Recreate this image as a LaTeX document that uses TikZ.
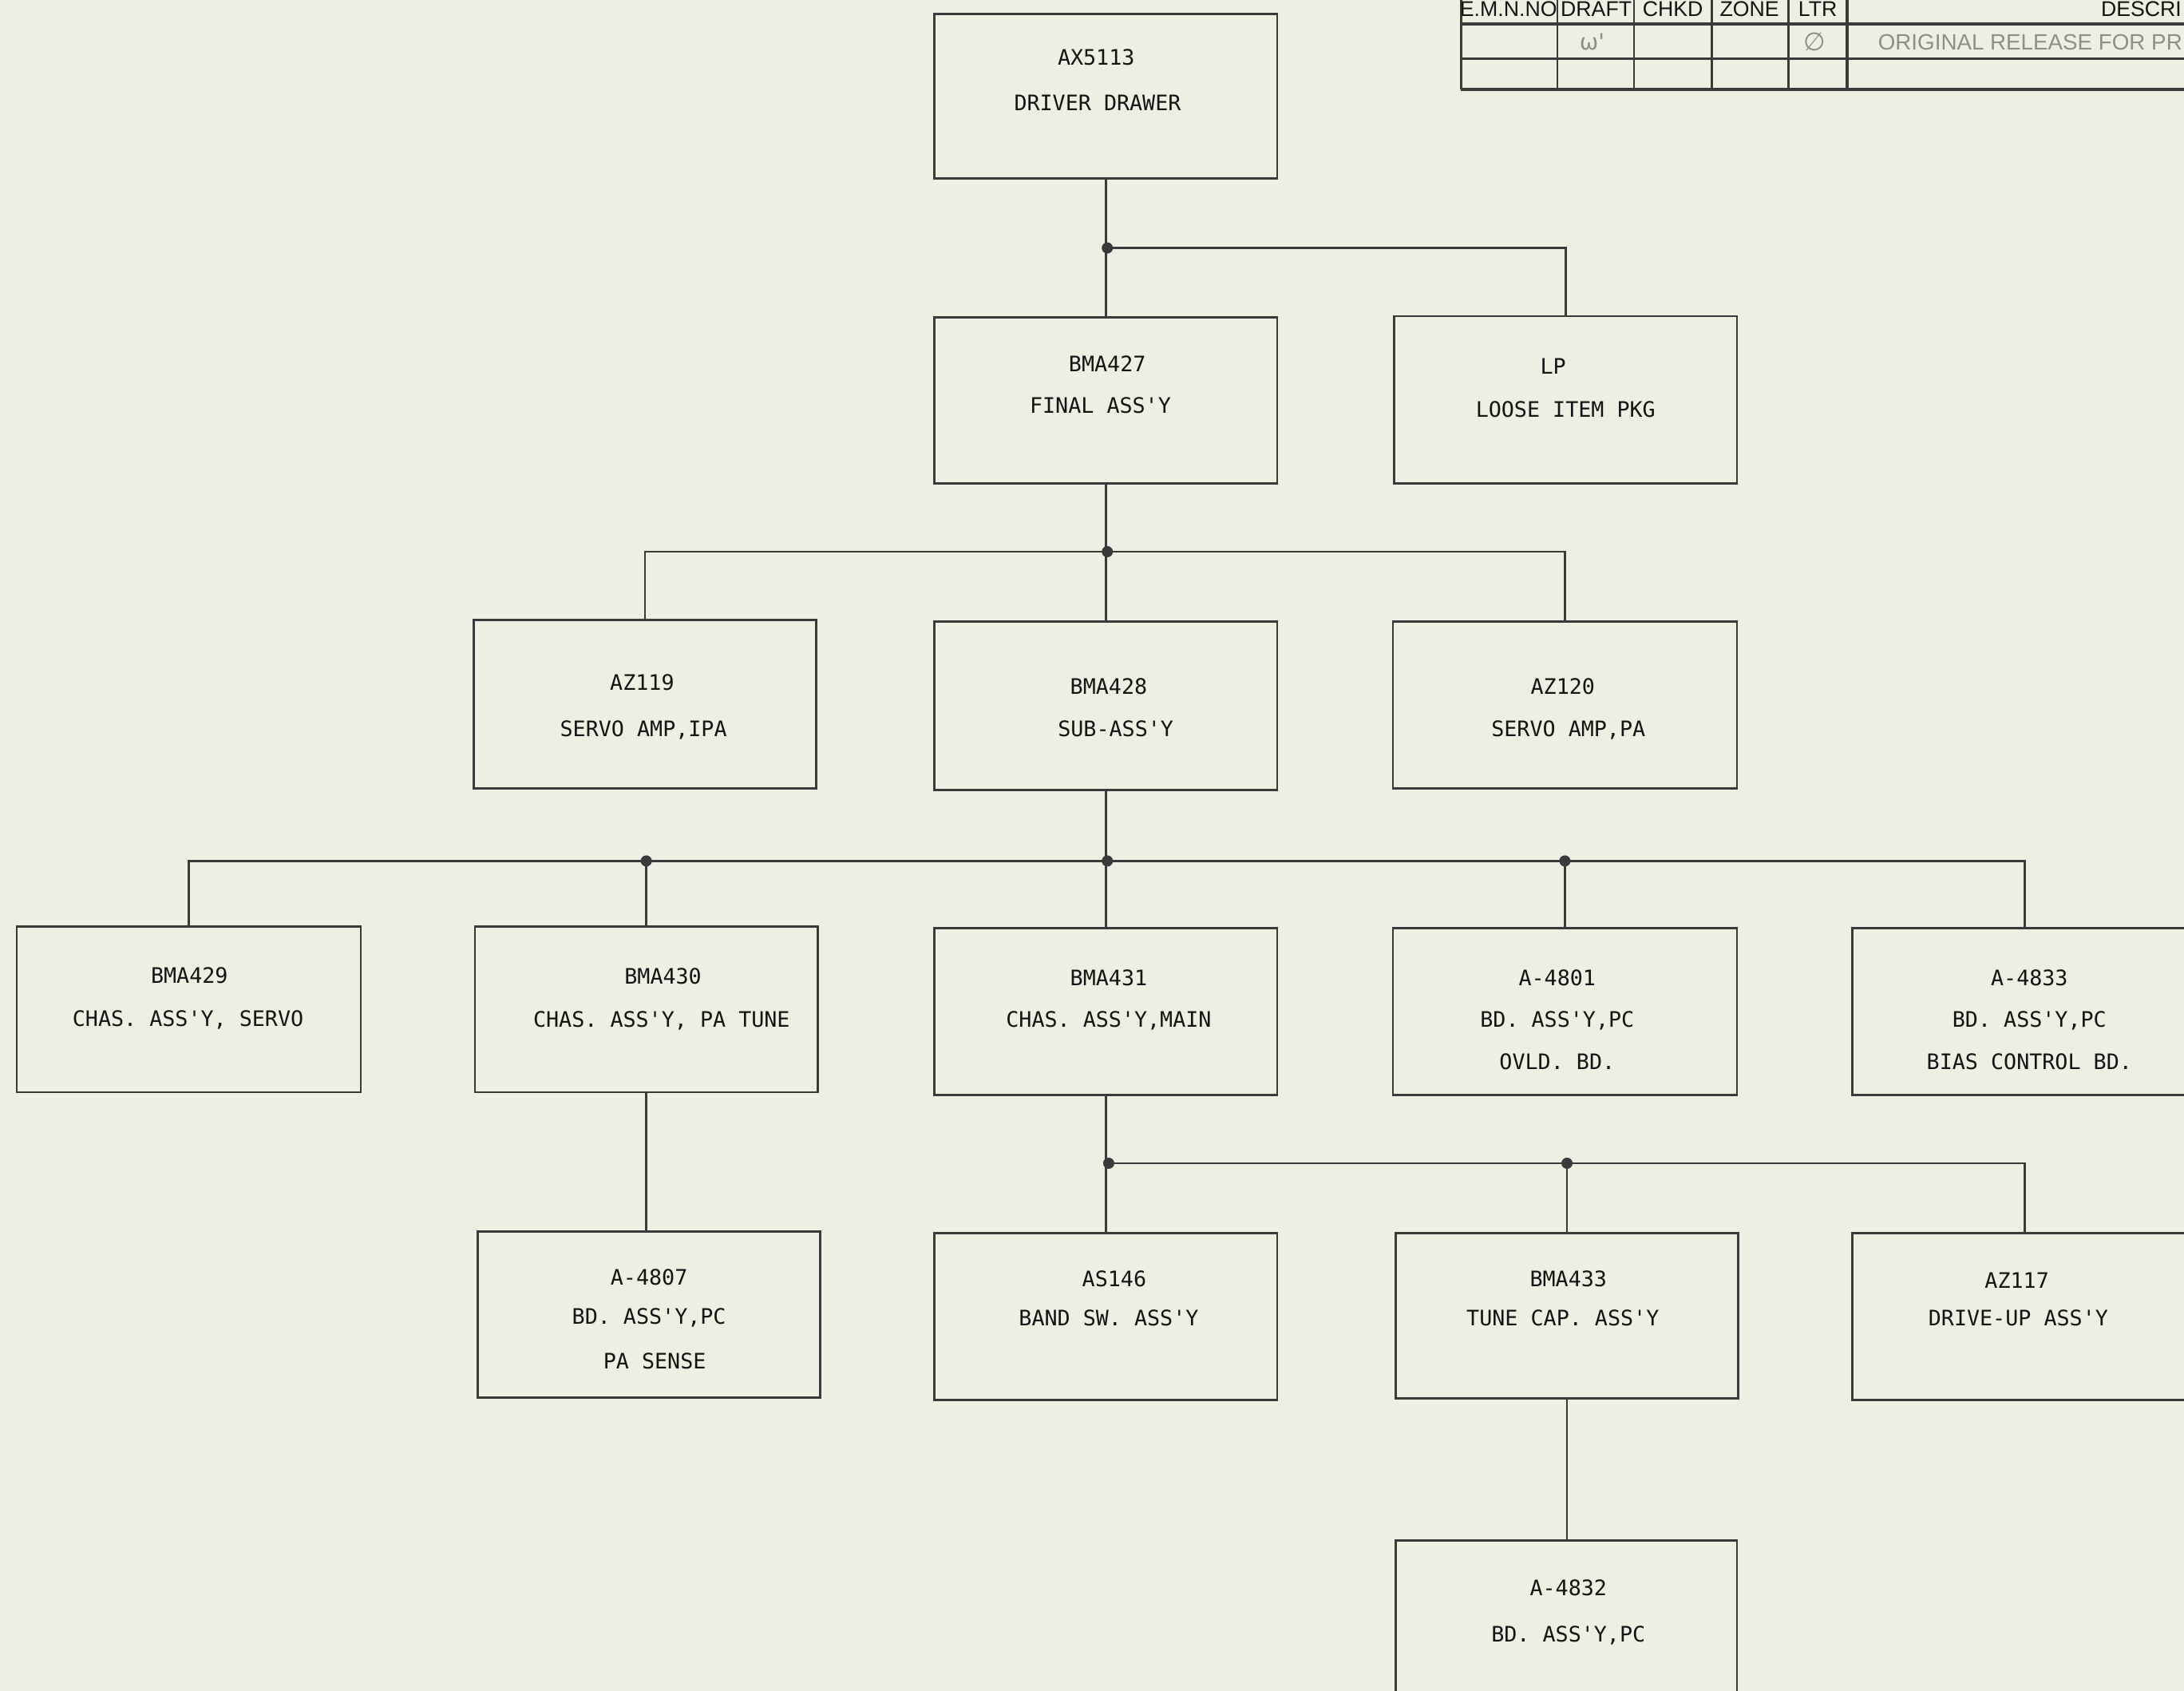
\documentclass[tikz,border=0pt]{standalone}
\usepackage{fontspec}
\usepackage{graphicx}
\usetikzlibrary{fit}
\newfontfamily\monofont{DejaVu Sans Mono}
\newfontfamily\hdrfont{Liberation Sans}
\newfontfamily\symfont{DejaVu Sans}
\definecolor{paper}{HTML}{EFEEE2}
\definecolor{ink}{HTML}{3A3A3A}
\definecolor{textink}{HTML}{141414}
\definecolor{faded}{HTML}{8E8E8A}
\newcommand\tl[4]{\node[txt,anchor=base] (#1) at (#2,#3+5.5) {#4};}
\begin{document}
\begin{tikzpicture}[x=0.017449cm,y=-0.017449cm,
  box/.style={draw=ink,line width=0.8pt,inner sep=0pt},
  txt/.style={font=\monofont\fontsize{7.6}{9}\selectfont,text=textink,inner sep=0pt},
  hdr/.style={font=\hdrfont\fontsize{7.6}{9}\selectfont,text=textink,inner sep=0pt,anchor=base},
  wire/.style={draw=ink,line width=0.75pt},
  tab/.style={draw=ink,line width=0.7pt},
  dot/.style={circle,fill=ink,inner sep=0pt,minimum size=1.4mm}]
\fill[paper] (0,0) rectangle (1568,1213.8);
\useasboundingbox (0,0) rectangle (1568,1213.8);
\clip (0,0) rectangle (1568,1213.8);

% ---- revision table (top right) ----
\draw[tab] (1049,-5) -- (1049,64);
\foreach \cx in {1118,1173,1229,1284}{\draw[tab] (\cx,-5) -- (\cx,64);}
\draw[tab,line width=1pt] (1326,-5) -- (1326,64);
\draw[tab,line width=1.1pt] (1049,17) -- (1600,17);
\draw[tab] (1049,42) -- (1600,42);
\draw[tab,line width=1.1pt] (1049,64) -- (1600,64);
\node[hdr] (h1) at (1083,12) {E.M.N.NO};
\node[hdr] (h2) at (1146,12) {DRAFT};
\node[hdr] (h3) at (1201,12) {CHKD};
\node[hdr] (h4) at (1256,12) {ZONE};
\node[hdr] (h5) at (1305,12) {LTR};
\node[hdr,anchor=base west] (h6) at (1508,12) {DESCRI};
\node[font=\symfont\fontsize{8}{9}\selectfont,text=faded,inner sep=0pt] (r1) at (1143,30) {ω'};
\node[font=\symfont\fontsize{9}{9}\selectfont,text=faded,inner sep=0pt] (r2) at (1303,30) {∅};
\node[font=\hdrfont\fontsize{7.9}{9}\selectfont,text=faded,inner sep=0pt,anchor=base west] (r3) at (1348,36) {ORIGINAL RELEASE FOR PR};

% ---- boxes ----
\node[box,fit={(671,10) (917,128)}] (ax) {};
\node[box,fit={(671,228) (917,347)}] (b427) {};
\node[box,fit={(1001,227) (1247,347)}] (lp) {};
\node[box,fit={(340,445) (586,566)}] (az119) {};
\node[box,fit={(671,446) (917,567)}] (b428) {};
\node[box,fit={(1000,446) (1247,566)}] (az120) {};
\node[box,fit={(12,665) (259,784)}] (b429) {};
\node[box,fit={(341,665) (587,784)}] (b430) {};
\node[box,fit={(671,666) (917,786)}] (b431) {};
\node[box,fit={(1000,666) (1247,786)}] (a4801) {};
\node[box,fit={(1330,666) (1577,786)}] (a4833) {};
\node[box,fit={(343,884) (589,1003)}] (a4807) {};
\node[box,fit={(671,885) (917,1005)}] (as146) {};
\node[box,fit={(1002,885) (1248,1004)}] (b433) {};
\node[box,fit={(1330,885) (1577,1005)}] (az117) {};
\node[box,fit={(1002,1106) (1247,1226)}] (a4832) {};

% ---- texts ----
\tl{t1a}{787}{41}{AX5113}
\tl{t1b}{788}{74}{DRIVER DRAWER}
\tl{t2a}{795}{261}{BMA427}
\tl{t2b}{790}{291}{FINAL ASS'Y}
\tl{t3a}{1115}{263}{LP}
\tl{t3b}{1124}{294}{LOOSE ITEM PKG}
\tl{t4a}{461}{490}{AZ119}
\tl{t4b}{462}{523}{SERVO AMP,IPA}
\tl{t5a}{796}{493}{BMA428}
\tl{t5b}{801}{523}{SUB-ASS'Y}
\tl{t6a}{1122}{493}{AZ120}
\tl{t6b}{1126}{523}{SERVO AMP,PA}
\tl{t7a}{136}{700}{BMA429}
\tl{t7b}{135}{731}{CHAS. ASS'Y, SERVO}
\tl{t8a}{476}{701}{BMA430}
\tl{t8b}{475}{732}{CHAS. ASS'Y, PA TUNE}
\tl{t9a}{796}{702}{BMA431}
\tl{t9b}{796}{732}{CHAS. ASS'Y,MAIN}
\tl{t10a}{1118}{702}{A-4801}
\tl{t10b}{1118}{732}{BD. ASS'Y,PC}
\tl{t10c}{1118}{762}{OVLD. BD.}
\tl{t11a}{1457}{702}{A-4833}
\tl{t11b}{1457}{732}{BD. ASS'Y,PC}
\tl{t11c}{1457}{762}{BIAS CONTROL BD.}
\tl{t12a}{466}{917}{A-4807}
\tl{t12b}{466}{945}{BD. ASS'Y,PC}
\tl{t12c}{470}{977}{PA SENSE}
\tl{t13a}{800}{918}{AS146}
\tl{t13b}{796}{946}{BAND SW. ASS'Y}
\tl{t14a}{1126}{918}{BMA433}
\tl{t14b}{1122}{946}{TUNE CAP. ASS'Y}
\tl{t15a}{1448}{919}{AZ117}
\tl{t15b}{1449}{946}{DRIVE-UP ASS'Y}
\tl{t16a}{1126}{1140}{A-4832}
\tl{t16b}{1126}{1173}{BD. ASS'Y,PC}

% ---- junctions ----
\coordinate (j1) at (795,178);
\coordinate (j2) at (795,396);
\coordinate (j3) at (795,618);
\coordinate (j4) at (796,835);

% ---- connectors ----
\draw[wire] (ax.south) -- (b427.north);
\draw[wire] (j1) -| (lp.north);
\draw[wire] (b427.south) -- (b428.north);
\draw[wire] (az119.north) |- (j2) -| (az120.north);
\draw[wire] (b428.south) -- (b431.north);
\draw[wire] (b429.north) |- (j3) -| (a4833.north);
\draw[wire] (b430.north) -- (b430.north |- j3);
\draw[wire] (a4801.north) -- (a4801.north |- j3);
\draw[wire] (b430.south) -- (b430.south |- a4807.north);
\draw[wire] (b431.south) -- (as146.north);
\draw[wire] (j4) -| (az117.north);
\draw[wire] (b433.north) -- (b433.north |- j4);
\draw[wire] (b433.south) -- (b433.south |- a4832.north);

% ---- dots ----
\node[dot] (d1) at (j1) {};
\node[dot] (d2) at (j2) {};
\node[dot] (d3) at (j3) {};
\node[dot] (d4) at (b430.north |- j3) {};
\node[dot] (d5) at (a4801.north |- j3) {};
\node[dot] (d6) at (j4) {};
\node[dot] (d7) at (b433.north |- j4) {};
\end{tikzpicture}
\end{document}
